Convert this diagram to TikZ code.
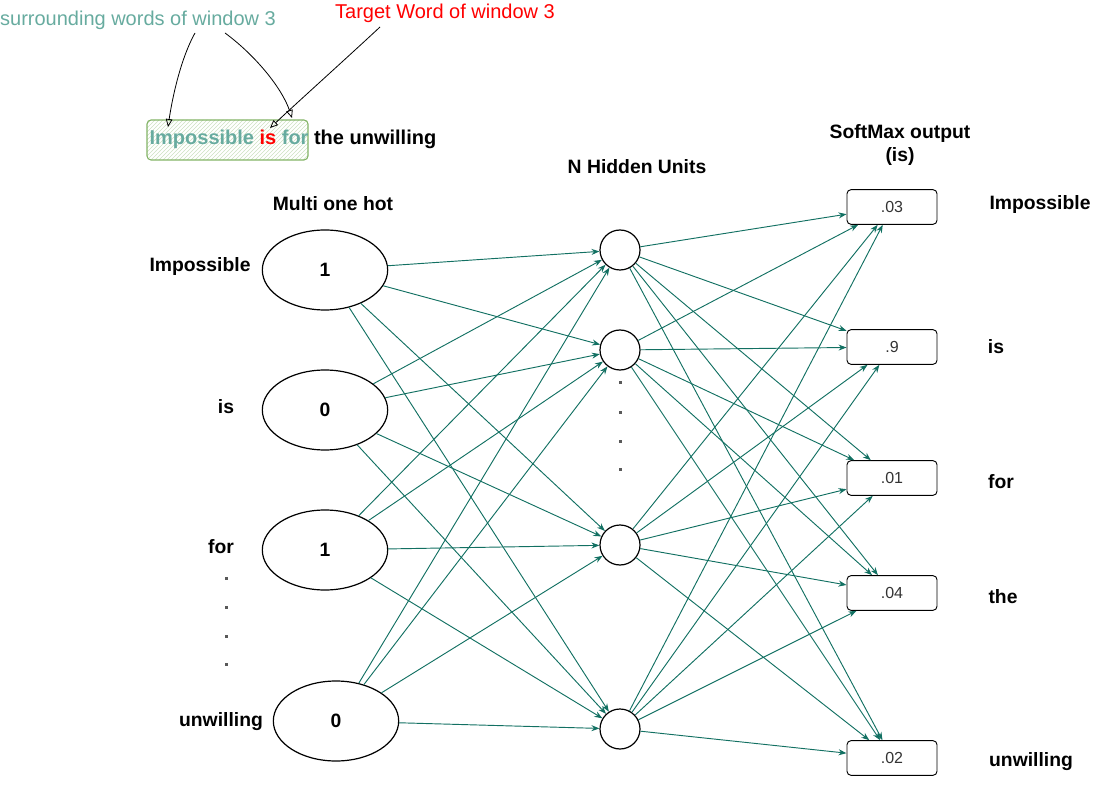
\documentclass[tikz,border=0pt]{standalone}
\usepackage{fontspec}
\setmainfont{Liberation Sans}
\usetikzlibrary{shapes.geometric,arrows.meta,patterns}

\definecolor{wireteal}{RGB}{18,112,98}
\definecolor{softteal}{RGB}{103,171,159}
\definecolor{windowgreen}{RGB}{130,179,102}

\begin{document}
\begin{tikzpicture}[x=0.75pt,y=-0.75pt,
    inunit/.style={draw, ellipse, line width=0.9pt, minimum width=94pt, minimum height=60pt, inner sep=0pt, font=\bfseries\fontsize{14.5}{17}\selectfont},
    hidunit/.style={draw, circle, line width=0.9pt, minimum size=30pt, inner sep=0pt},
    outunit/.style={draw, rounded corners=3pt, line width=0.7pt, minimum width=67.5pt, minimum height=26pt, inner sep=0pt, text=black!80, font=\fontsize{12}{14}\selectfont},
    wordlabel/.style={font=\bfseries\fontsize{14.5}{17}\selectfont},
    wire/.style={wireteal, line width=0.7pt, -{Stealth[length=6pt,width=4.5pt]}},
    pointer/.style={black, line width=0.6pt, -{Triangle[open,length=6pt,width=5pt]}},
    dotmark/.style={fill=black!65}]
    \useasboundingbox (0,0) rectangle (1099,791);

    % Window of the sentence
    \node[font=\fontsize{15}{18}\selectfont, text=softteal, inner sep=0pt] (surround) at (138,20) {surrounding words of window 3};
    \node[font=\fontsize{15}{18}\selectfont, text=red, inner sep=0pt] (target) at (445,13) {Target Word of window 3};
    \node[draw=windowgreen, line width=0.8pt, rounded corners=3pt, pattern=north east lines, pattern color=windowgreen!40,
          minimum width=120.75pt, minimum height=30pt] (window) at (227.5,140) {};
    \node[anchor=west, inner sep=1pt, font=\bfseries\fontsize{15}{18}\selectfont] (sentence) at (148,139)
        {\textcolor{softteal}{Impossible} \textcolor{red}{is} \textcolor{softteal}{for} the unwilling};
    \coordinate (surrA) at (195,33);
    \coordinate (surrB) at (225,33);
    \coordinate (tgtA) at (380,27);
    \coordinate (wordImp) at (168,127);
    \coordinate (wordFor) at (292,118);
    \coordinate (wordIs) at (270,128);
    \draw[pointer] (surrA) .. controls (180,60) and (172,100) .. (wordImp);
    \draw[pointer] (surrB) .. controls (255,55) and (282,88) .. (wordFor);
    \draw[pointer] (tgtA) .. controls (350,55) and (300,100) .. (wordIs);

    % Titles
    \node[wordlabel] (multititle) at (333,204) {Multi one hot};
    \node[wordlabel] (hidtitle) at (637,167) {N Hidden Units};
    \node[wordlabel, align=center] (softtitle) at (900,145) {SoftMax output\\(is)};

    % Input layer
    \node[inunit] (in1) at (325,270) {1};
    \node[inunit] (in2) at (325,410) {0};
    \node[inunit] (in3) at (325,550) {1};
    \node[inunit] (in4) at (336,721) {0};
    \node[wordlabel] (inw1) at (200,267) {Impossible};
    \node[wordlabel] (inw2) at (226,407) {is};
    \node[wordlabel] (inw3) at (221,547) {for};
    \node[wordlabel] (inw4) at (221,722) {unwilling};
    \foreach \y in {578,607,636,664}
        \fill[dotmark] (224.5,\y-1.5) rectangle ++(3,3);

    % Hidden layer
    \node[hidunit] (hid1) at (620,250) {};
    \node[hidunit] (hid2) at (620,350) {};
    \node[hidunit] (hid3) at (620,545) {};
    \node[hidunit] (hid4) at (620,729) {};
    \foreach \y in {383,412,441,469}
        \fill[dotmark] (618.5,\y-1.5) rectangle ++(3,3);

    % Output layer
    \node[outunit] (out1) at (892,207) {.03};
    \node[outunit] (out2) at (892,347) {.9};
    \node[outunit] (out3) at (892,478) {.01};
    \node[outunit] (out4) at (892,593) {.04};
    \node[outunit] (out5) at (892,758) {.02};
    \node[wordlabel] (outw1) at (1040,205) {Impossible};
    \node[wordlabel] (outw2) at (996,347) {is};
    \node[wordlabel] (outw3) at (1001,482) {for};
    \node[wordlabel] (outw4) at (1003,597) {the};
    \node[wordlabel] (outw5) at (1031,762) {unwilling};

    % Connections
    \foreach \i in {1,...,4}
        \foreach \h in {1,...,4}
            \draw[wire] (in\i) -- (hid\h);
    \foreach \h in {1,...,4}
        \foreach \o in {1,...,5}
            \draw[wire] (hid\h) -- (out\o);
\end{tikzpicture}
\end{document}
